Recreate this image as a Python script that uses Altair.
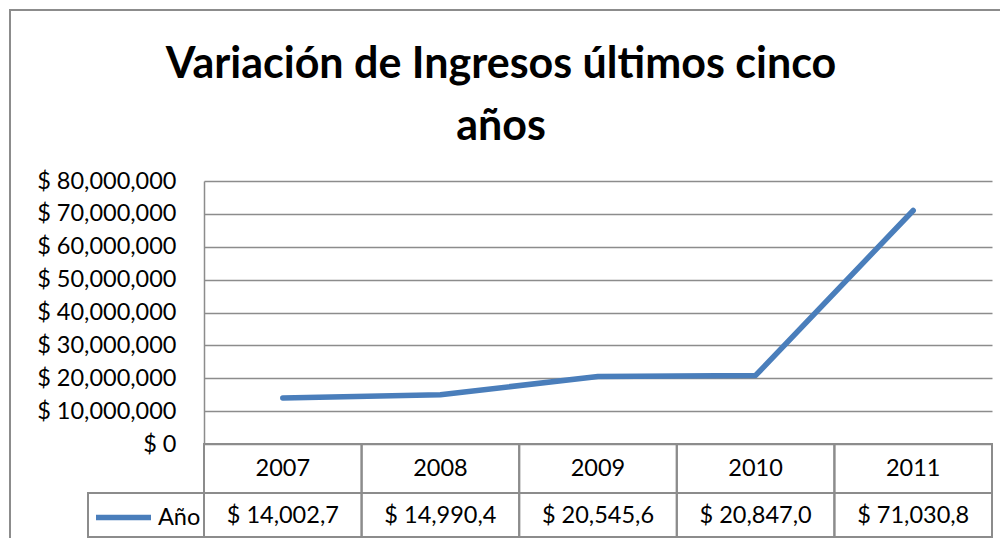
import altair as alt
import pandas as pd

# ---- data ----
years = ["2007", "2008", "2009", "2010", "2011"]
ingresos = [14002700, 14990400, 20545600, 20847000, 71030800]
etiquetas = ["$ 14,002,7", "$ 14,990,4", "$ 20,545,6", "$ 20,847,0", "$ 71,030,8"]
serie = "Año"
titulo = "Variación de Ingresos últimos cinco\naños"
y_ticks = [0, 10000000, 20000000, 30000000, 40000000, 50000000, 60000000, 70000000, 80000000]

df = pd.DataFrame({"year": years, "value": ingresos, "label": etiquetas, "serie": [serie] * len(years)})
one = pd.DataFrame({"k": [0]})
tdf = pd.DataFrame({"t": [titulo]})

FONT = "Lato"
GRAY = "#8c8c8c"
BLUE = "#4a7ebb"

W, H = 788, 263

xscale = alt.Scale(type="band", paddingInner=0, paddingOuter=0, domain=years)
yscale = alt.Scale(domain=[0, 80000000], nice=False)

base = alt.Chart(df)

# outer frame
frame = alt.Chart(one).mark_rect(fill="white", fillOpacity=0, stroke=GRAY, strokeWidth=2).encode(
    x=alt.value(-194), x2=alt.value(1200), y=alt.value(-171), y2=alt.value(800)
)

title = alt.Chart(tdf).mark_text(font=FONT, fontSize=43, fontWeight="bold", color="black",
                                 align="center", baseline="alphabetic", lineBreak="\n",
                                 lineHeight=62).encode(
    x=alt.value(297), y=alt.value(-103), text="t:N"
)

line = base.mark_line(strokeWidth=5.5, strokeCap="round", strokeJoin="round").encode(
    x=alt.X("year:N", scale=xscale, axis=None),
    y=alt.Y("value:Q", scale=yscale, axis=alt.Axis(
        values=y_ticks, title=None, ticks=False, labelPadding=28,
        labelExpr="'$ ' + format(datum.value, ',')",
        labelFont=FONT, labelFontSize=23.5, labelColor="black",
        grid=True, gridColor=GRAY, gridWidth=1.5,
        domain=True, domainColor=GRAY, domainWidth=1.5)),
    color=alt.Color("serie:N", scale=alt.Scale(range=[BLUE]), legend=alt.Legend(
        orient="none", legendX=-111, legendY=306, title=None,
        symbolType="stroke", symbolSize=3025, symbolStrokeWidth=5.5,
        labelFont=FONT, labelFontSize=23.5, labelColor="black", labelOffset=4,
        padding=0))
)

# table cells
cells_year = base.mark_rect(fill="white", fillOpacity=0, stroke=GRAY, strokeWidth=2).encode(
    x=alt.X("year:N", scale=xscale, axis=None), y=alt.value(263), y2=alt.value(312)
)
cells_val = base.mark_rect(fill="white", fillOpacity=0, stroke=GRAY, strokeWidth=2).encode(
    x=alt.X("year:N", scale=xscale, axis=None), y=alt.value(312), y2=alt.value(356)
)
legend_cell = alt.Chart(one).mark_rect(fill="white", fillOpacity=0, stroke=GRAY, strokeWidth=2).encode(
    x=alt.value(-116), x2=alt.value(0), y=alt.value(312), y2=alt.value(356)
)

txt_year = base.mark_text(font=FONT, fontSize=23.5, color="black", baseline="middle").encode(
    x=alt.X("year:N", scale=xscale, axis=None), y=alt.value(288), text="year:N"
)
txt_val = base.mark_text(font=FONT, fontSize=23.5, color="black", baseline="middle").encode(
    x=alt.X("year:N", scale=xscale, axis=None), y=alt.value(335), text="label:N"
)

chart = alt.layer(frame, title, cells_year, cells_val, legend_cell, txt_year, txt_val, line).properties(
    width=W, height=H,
    autosize=alt.AutoSizeParams(type="none"),
    padding={"left": 196, "top": 173, "right": 8, "bottom": 94},
    background="white",
).configure_view(stroke=None)

chart.save("out.html", embed_options={"renderer": "svg", "actions": False})
